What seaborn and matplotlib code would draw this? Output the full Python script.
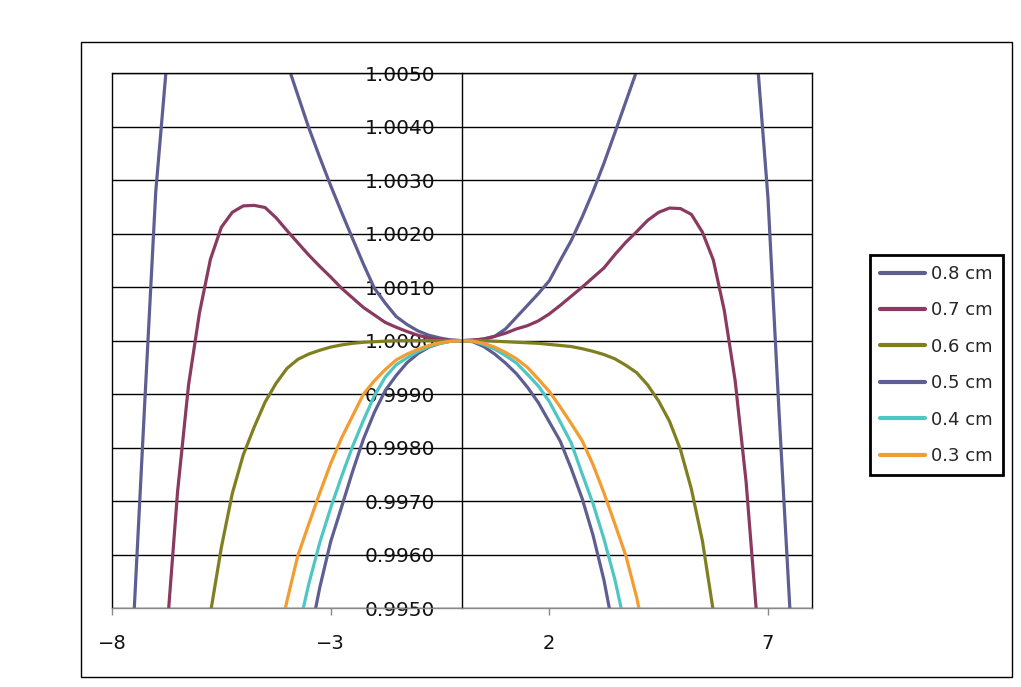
import matplotlib
matplotlib.use("Agg")
import matplotlib.pyplot as plt
from matplotlib.patches import Rectangle
import seaborn as sns
import pandas as pd

# ---------------- data ----------------
x_vals = [-8.00, -7.75, -7.50, -7.25, -7.00, -6.75, -6.50, -6.25,
          -6.00, -5.75, -5.50, -5.25, -5.00, -4.75, -4.50, -4.25,
          -4.00, -3.75, -3.50, -3.25, -3.00, -2.75, -2.50, -2.25,
          -2.00, -1.75, -1.50, -1.25, -1.00, -0.75, -0.50, -0.25,
          0.00,
          0.25, 0.50, 0.75, 1.00, 1.25, 1.50, 1.75, 2.00,
          2.25, 2.50, 2.75, 3.00, 3.25, 3.50, 3.75, 4.00,
          4.25, 4.50, 4.75, 5.00, 5.25, 5.50, 5.75, 6.00,
          6.25, 6.50, 6.75, 7.00, 7.25, 7.50, 7.75, 8.00]

y_08 = [0.98700, 0.99120, 0.99484, 0.99886, 1.00278, 1.00518, 1.00780, 1.00980,
        1.01100, 1.01160, 1.01170, 1.01130, 1.01040, 1.00900, 1.00750, 1.00620,
        1.00520, 1.00459, 1.00398, 1.00343, 1.00290, 1.00240, 1.00191, 1.00143,
        1.00098, 1.00070, 1.00045, 1.00030, 1.00018, 1.00010, 1.00005, 1.00001,
        1.00000,
        1.00001, 1.00003, 1.00008, 1.00022, 1.00044, 1.00066, 1.00088, 1.00112,
        1.00150, 1.00187, 1.00231, 1.00279, 1.00332, 1.00389, 1.00447, 1.00505,
        1.00620, 1.00750, 1.00900, 1.01040, 1.01130, 1.01170, 1.01160, 1.01100,
        1.00980, 1.00780, 1.00530, 1.00267, 0.99871, 0.99500, 0.99120, 0.98700]

y_07 = [0.97500, 0.98000, 0.98400, 0.98800, 0.99150, 0.99450, 0.99718, 0.99917,
        1.00052, 1.00152, 1.00212, 1.00240, 1.00252, 1.00253, 1.00249, 1.00230,
        1.00206, 1.00183, 1.00160, 1.00139, 1.00119, 1.00098, 1.00080, 1.00062,
        1.00048, 1.00034, 1.00025, 1.00017, 1.00010, 1.00005, 1.00002, 1.00001,
        1.00000,
        1.00001, 1.00003, 1.00008, 1.00014, 1.00022, 1.00028, 1.00037, 1.00050,
        1.00066, 1.00083, 1.00100, 1.00118, 1.00136, 1.00161, 1.00184, 1.00204,
        1.00225, 1.00240, 1.00248, 1.00247, 1.00236, 1.00203, 1.00151, 1.00057,
        0.99925, 0.99736, 0.99478, 0.99150, 0.98800, 0.98400, 0.98000, 0.97500]

y_06 = [0.97200, 0.97600, 0.97900, 0.98200, 0.98500, 0.98750, 0.98980, 0.99180,
        0.99350, 0.99490, 0.99613, 0.99714, 0.99786, 0.99838, 0.99885, 0.99920,
        0.99948, 0.99965, 0.99975, 0.99982, 0.99988, 0.99992, 0.99995, 0.99997,
        0.99998, 0.99999, 1.00000, 1.00000, 1.00000, 1.00000, 1.00000, 1.00000,
        1.00000,
        1.00000, 1.00000, 0.99999, 0.99998, 0.99997, 0.99996, 0.99995, 0.99993,
        0.99991, 0.99989, 0.99985, 0.99980, 0.99974, 0.99966, 0.99954, 0.99940,
        0.99917, 0.99887, 0.99849, 0.99796, 0.99722, 0.99626, 0.99494, 0.99350,
        0.99180, 0.98980, 0.98750, 0.98500, 0.98200, 0.97900, 0.97600, 0.97200]

y_05 = [0.93800, 0.94300, 0.94800, 0.95300, 0.95700, 0.96100, 0.96500, 0.96900,
        0.97200, 0.97500, 0.97800, 0.98100, 0.98350, 0.98600, 0.98800, 0.99000,
        0.99170, 0.99310, 0.99435, 0.99538, 0.99624, 0.99689, 0.99755, 0.99816,
        0.99866, 0.99907, 0.99935, 0.99959, 0.99976, 0.99988, 0.99995, 0.99999,
        1.00000,
        0.99998, 0.99989, 0.99975, 0.99958, 0.99938, 0.99913, 0.99884, 0.99848,
        0.99812, 0.99761, 0.99705, 0.99636, 0.99552, 0.99445, 0.99310, 0.99170,
        0.99000, 0.98800, 0.98600, 0.98350, 0.98100, 0.97800, 0.97500, 0.97200,
        0.96900, 0.96500, 0.96100, 0.95700, 0.95300, 0.94800, 0.94300, 0.93800]

y_04 = [0.94400, 0.94900, 0.95400, 0.95800, 0.96200, 0.96600, 0.97000, 0.97300,
        0.97600, 0.97900, 0.98200, 0.98500, 0.98700, 0.98900, 0.99070, 0.99220,
        0.99350, 0.99455, 0.99545, 0.99622, 0.99687, 0.99746, 0.99802, 0.99851,
        0.99897, 0.99932, 0.99955, 0.99968, 0.99980, 0.99989, 0.99995, 0.99999,
        1.00000,
        0.99999, 0.99993, 0.99984, 0.99972, 0.99958, 0.99937, 0.99915, 0.99886,
        0.99848, 0.99809, 0.99751, 0.99695, 0.99629, 0.99553, 0.99460, 0.99350,
        0.99220, 0.99070, 0.98900, 0.98700, 0.98500, 0.98200, 0.97900, 0.97600,
        0.97300, 0.97000, 0.96600, 0.96200, 0.95800, 0.95400, 0.94900, 0.94400]

y_03 = [0.95500, 0.95900, 0.96300, 0.96700, 0.97100, 0.97400, 0.97700, 0.98000,
        0.98250, 0.98500, 0.98700, 0.98900, 0.99050, 0.99200, 0.99320, 0.99420,
        0.99513, 0.99598, 0.99657, 0.99715, 0.99770, 0.99818, 0.99859, 0.99900,
        0.99925, 0.99946, 0.99964, 0.99975, 0.99984, 0.99991, 0.99996, 0.99999,
        1.00000,
        0.99999, 0.99995, 0.99988, 0.99978, 0.99966, 0.99950, 0.99928, 0.99905,
        0.99876, 0.99845, 0.99813, 0.99768, 0.99715, 0.99657, 0.99598, 0.99519,
        0.99420, 0.99320, 0.99200, 0.99050, 0.98900, 0.98700, 0.98500, 0.98250,
        0.98000, 0.97700, 0.97400, 0.97100, 0.96700, 0.96300, 0.95900, 0.95500]

series_names = ["0.8 cm", "0.7 cm", "0.6 cm", "0.5 cm", "0.4 cm", "0.3 cm"]
series_values = [y_08, y_07, y_06, y_05, y_04, y_03]
series_colors = ["#5E5E92", "#8A3A60", "#7F7F20", "#5E5E92", "#4EC6C4", "#F39C30"]

x_ticks = [-8, -3, 2, 7]
y_ticks = [0.995, 0.996, 0.997, 0.998, 0.999, 1.000,
           1.001, 1.002, 1.003, 1.004, 1.005]
y_tick_labels = ["0.9950", "0.9960", "0.9970", "0.9980", "0.9990", "1.0000",
                 "1.0010", "1.0020", "1.0030", "1.0040", "1.0050"]

# ---------------- build table ----------------
rows = []
for name, vals in zip(series_names, series_values):
    for xv, yv in zip(x_vals, vals):
        rows.append({"x": xv, "y": yv, "series": name})
df = pd.DataFrame(rows)

# ---------------- plot ----------------
sns.set_style("white")
plt.rcParams["font.family"] = ["DejaVu Sans"]
plt.rcParams["axes.unicode_minus"] = True

W, H = 1021, 687
fig = plt.figure(figsize=(W / 100, H / 100), dpi=100)
fig.patch.set_facecolor("white")

# outer chart-area frame
fig.patches.append(Rectangle((81 / W, 1 - 677 / H), (1012 - 81) / W, (677 - 42) / H,
                             transform=fig.transFigure, fill=False,
                             edgecolor="black", linewidth=1.0))

ax = fig.add_axes([112 / W, 1 - 608 / H, (811.7 - 112) / W, (608 - 73.3) / H])
ax.set_axisbelow(True)

sns.lineplot(data=df, x="x", y="y", hue="series", hue_order=series_names,
             palette=series_colors, estimator=None, sort=False,
             linewidth=2.3, ax=ax, legend=True)
for ln in ax.get_lines():
    ln.set_solid_capstyle("round")
    ln.set_solid_joinstyle("round")

ax.set_xlim(-8, 8)
ax.set_ylim(0.995, 1.005)
ax.set_xlabel("")
ax.set_ylabel("")

ax.set_xticks(x_ticks)
ax.set_xticklabels([f"{t:d}".replace("-", "\u2212") for t in x_ticks])
ax.set_yticks(y_ticks)
ax.set_yticklabels(y_tick_labels)

ax.grid(axis="y", color="black", linewidth=1.0)
ax.grid(axis="x", visible=False)

# y axis crosses at x = 0
ax.spines["left"].set_position(("data", 0))
ax.spines["left"].set_color("black")
ax.spines["left"].set_linewidth(1.0)
ax.spines["right"].set_visible(True)
ax.spines["right"].set_color("black")
ax.spines["right"].set_linewidth(1.0)
ax.spines["top"].set_visible(True)
ax.spines["top"].set_color("black")
ax.spines["top"].set_linewidth(1.0)
ax.spines["bottom"].set_color("#888888")
ax.spines["bottom"].set_linewidth(1.0)
ax.axvline(-8, color="black", linewidth=1.0, clip_on=False, zorder=0.6)

ax.tick_params(axis="y", length=0, pad=19, labelsize=14.5, labelcolor="#111111")
ax.tick_params(axis="x", direction="out", length=5, width=1, color="#888888",
               pad=14, labelsize=14, labelcolor="#111111", bottom=True)

handles, labels = ax.get_legend_handles_labels()
leg = ax.legend(handles, labels, loc="upper left",
                bbox_to_anchor=(870 / W, 1 - 255 / H), bbox_transform=fig.transFigure,
                frameon=True, fancybox=False, framealpha=1, edgecolor="black",
                borderaxespad=0, fontsize=13, handlelength=2.5, handletextpad=0.35,
                labelspacing=1.02, borderpad=0.55)
leg.get_frame().set_linewidth(2.0)
for h in leg.legend_handles:
    h.set_linewidth(3)
    h.set_solid_capstyle("round")

fig.savefig("out.png", dpi=100, facecolor="white")
